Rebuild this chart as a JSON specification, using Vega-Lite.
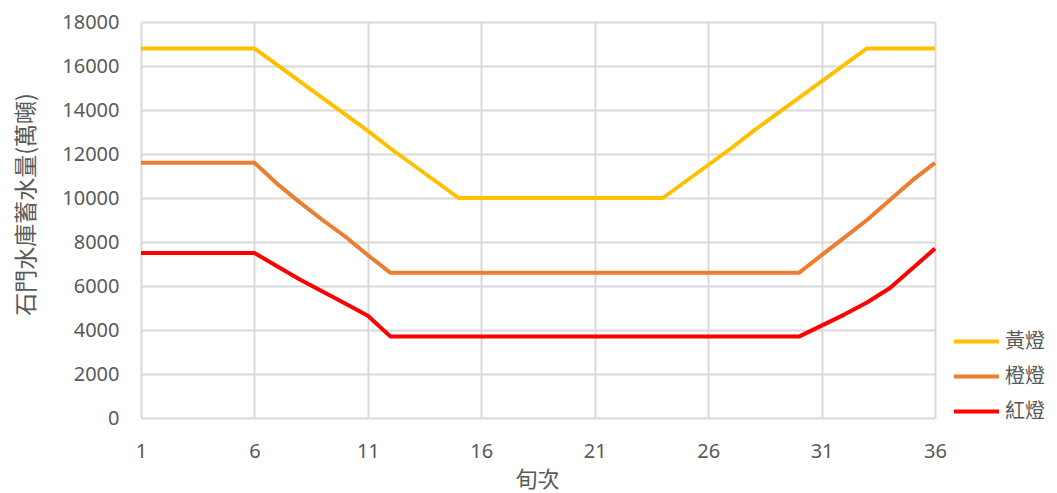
{
  "$schema": "https://vega.github.io/schema/vega-lite/v6.json",
  "autosize": "none",
  "width": 794,
  "height": 396,
  "padding": {"left": 141, "top": 22, "right": 122, "bottom": 75},
  "background": "white",
  "config": {
    "view": {"stroke": null},
    "axis": {
      "domain": false,
      "ticks": false,
      "gridColor": "#d9d9d9",
      "gridWidth": 2,
      "labelColor": "#595959",
      "labelFont": "Noto Sans",
      "labelFontSize": 20,
      "labelFlush": false,
      "labelBound": false,
      "format": "d",
      "titleColor": "#595959",
      "titleFont": "Noto Sans CJK TC",
      "titleFontSize": 22,
      "titleFontWeight": "normal"
    },
    "legend": {
      "labelColor": "#595959",
      "labelFont": "Noto Sans CJK TC",
      "labelFontSize": 20
    }
  },
  "data": {
    "values": [
      {"x": 1, "level": "黃燈", "value": 16800}, {"x": 2, "level": "黃燈", "value": 16800}, {"x": 3, "level": "黃燈", "value": 16800}, {"x": 4, "level": "黃燈", "value": 16800}, {"x": 5, "level": "黃燈", "value": 16800}, {"x": 6, "level": "黃燈", "value": 16800},
      {"x": 7, "level": "黃燈", "value": 16050}, {"x": 8, "level": "黃燈", "value": 15300}, {"x": 9, "level": "黃燈", "value": 14550}, {"x": 10, "level": "黃燈", "value": 13800}, {"x": 11, "level": "黃燈", "value": 13050}, {"x": 12, "level": "黃燈", "value": 12250}, {"x": 13, "level": "黃燈", "value": 11500}, {"x": 14, "level": "黃燈", "value": 10750}, {"x": 15, "level": "黃燈", "value": 10000},
      {"x": 16, "level": "黃燈", "value": 10000}, {"x": 17, "level": "黃燈", "value": 10000}, {"x": 18, "level": "黃燈", "value": 10000}, {"x": 19, "level": "黃燈", "value": 10000}, {"x": 20, "level": "黃燈", "value": 10000}, {"x": 21, "level": "黃燈", "value": 10000}, {"x": 22, "level": "黃燈", "value": 10000}, {"x": 23, "level": "黃燈", "value": 10000}, {"x": 24, "level": "黃燈", "value": 10000},
      {"x": 25, "level": "黃燈", "value": 10750}, {"x": 26, "level": "黃燈", "value": 11500}, {"x": 27, "level": "黃燈", "value": 12250}, {"x": 28, "level": "黃燈", "value": 13050}, {"x": 29, "level": "黃燈", "value": 13800}, {"x": 30, "level": "黃燈", "value": 14550}, {"x": 31, "level": "黃燈", "value": 15300}, {"x": 32, "level": "黃燈", "value": 16050}, {"x": 33, "level": "黃燈", "value": 16800},
      {"x": 34, "level": "黃燈", "value": 16800}, {"x": 35, "level": "黃燈", "value": 16800}, {"x": 36, "level": "黃燈", "value": 16800},

      {"x": 1, "level": "橙燈", "value": 11600}, {"x": 2, "level": "橙燈", "value": 11600}, {"x": 3, "level": "橙燈", "value": 11600}, {"x": 4, "level": "橙燈", "value": 11600}, {"x": 5, "level": "橙燈", "value": 11600}, {"x": 6, "level": "橙燈", "value": 11600},
      {"x": 7, "level": "橙燈", "value": 10650}, {"x": 8, "level": "橙燈", "value": 9800}, {"x": 9, "level": "橙燈", "value": 9000}, {"x": 10, "level": "橙燈", "value": 8250}, {"x": 11, "level": "橙燈", "value": 7400}, {"x": 12, "level": "橙燈", "value": 6600},
      {"x": 13, "level": "橙燈", "value": 6600}, {"x": 14, "level": "橙燈", "value": 6600}, {"x": 15, "level": "橙燈", "value": 6600}, {"x": 16, "level": "橙燈", "value": 6600}, {"x": 17, "level": "橙燈", "value": 6600}, {"x": 18, "level": "橙燈", "value": 6600}, {"x": 19, "level": "橙燈", "value": 6600}, {"x": 20, "level": "橙燈", "value": 6600}, {"x": 21, "level": "橙燈", "value": 6600}, {"x": 22, "level": "橙燈", "value": 6600}, {"x": 23, "level": "橙燈", "value": 6600}, {"x": 24, "level": "橙燈", "value": 6600}, {"x": 25, "level": "橙燈", "value": 6600}, {"x": 26, "level": "橙燈", "value": 6600}, {"x": 27, "level": "橙燈", "value": 6600}, {"x": 28, "level": "橙燈", "value": 6600}, {"x": 29, "level": "橙燈", "value": 6600}, {"x": 30, "level": "橙燈", "value": 6600},
      {"x": 31, "level": "橙燈", "value": 7400}, {"x": 32, "level": "橙燈", "value": 8200}, {"x": 33, "level": "橙燈", "value": 9000}, {"x": 34, "level": "橙燈", "value": 9900}, {"x": 35, "level": "橙燈", "value": 10800}, {"x": 36, "level": "橙燈", "value": 11600},

      {"x": 1, "level": "紅燈", "value": 7500}, {"x": 2, "level": "紅燈", "value": 7500}, {"x": 3, "level": "紅燈", "value": 7500}, {"x": 4, "level": "紅燈", "value": 7500}, {"x": 5, "level": "紅燈", "value": 7500}, {"x": 6, "level": "紅燈", "value": 7500},
      {"x": 7, "level": "紅燈", "value": 6900}, {"x": 8, "level": "紅燈", "value": 6300}, {"x": 9, "level": "紅燈", "value": 5750}, {"x": 10, "level": "紅燈", "value": 5200}, {"x": 11, "level": "紅燈", "value": 4650}, {"x": 12, "level": "紅燈", "value": 3700},
      {"x": 13, "level": "紅燈", "value": 3700}, {"x": 14, "level": "紅燈", "value": 3700}, {"x": 15, "level": "紅燈", "value": 3700}, {"x": 16, "level": "紅燈", "value": 3700}, {"x": 17, "level": "紅燈", "value": 3700}, {"x": 18, "level": "紅燈", "value": 3700}, {"x": 19, "level": "紅燈", "value": 3700}, {"x": 20, "level": "紅燈", "value": 3700}, {"x": 21, "level": "紅燈", "value": 3700}, {"x": 22, "level": "紅燈", "value": 3700}, {"x": 23, "level": "紅燈", "value": 3700}, {"x": 24, "level": "紅燈", "value": 3700}, {"x": 25, "level": "紅燈", "value": 3700}, {"x": 26, "level": "紅燈", "value": 3700}, {"x": 27, "level": "紅燈", "value": 3700}, {"x": 28, "level": "紅燈", "value": 3700}, {"x": 29, "level": "紅燈", "value": 3700}, {"x": 30, "level": "紅燈", "value": 3700},
      {"x": 31, "level": "紅燈", "value": 4200}, {"x": 32, "level": "紅燈", "value": 4700}, {"x": 33, "level": "紅燈", "value": 5250}, {"x": 34, "level": "紅燈", "value": 5900}, {"x": 35, "level": "紅燈", "value": 6800}, {"x": 36, "level": "紅燈", "value": 7700}
    ]
  },
  "mark": {"type": "line", "strokeWidth": 4, "strokeJoin": "round"},
  "encoding": {
    "x": {
      "field": "x",
      "type": "quantitative",
      "title": "旬次",
      "scale": {"domain": [1, 36], "nice": false, "zero": false},
      "axis": {"values": [1, 6, 11, 16, 21, 26, 31, 36], "labelPadding": 23, "titleX": 396, "titleY": 61, "titleBaseline": "middle", "titleAlign": "center"}
    },
    "y": {
      "field": "value",
      "type": "quantitative",
      "title": "石門水庫蓄水量(萬噸)",
      "scale": {"domain": [0, 18000], "nice": false},
      "axis": {"values": [0, 2000, 4000, 6000, 8000, 10000, 12000, 14000, 16000, 18000], "labelPadding": 22, "titleX": -115, "titleY": 182, "titleBaseline": "middle", "titleAlign": "center", "titleFontSize": 23}
    },
    "color": {
      "field": "level",
      "type": "nominal",
      "scale": {"domain": ["黃燈", "橙燈", "紅燈"], "range": ["#FFC000", "#ED7D31", "#FF0000"]},
      "legend": {
        "title": null,
        "orient": "none",
        "legendX": 811,
        "legendY": 295,
        "symbolType": "stroke",
        "symbolSize": 2025,
        "symbolStrokeWidth": 4,
        "rowPadding": 0,
        "labelOffset": 4
      }
    }
  }
}
